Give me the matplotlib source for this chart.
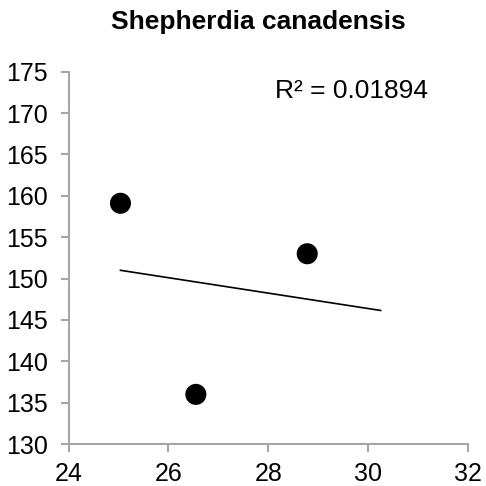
import numpy as np
import matplotlib
matplotlib.use("Agg")
import matplotlib.pyplot as plt

plt.rcParams["font.family"] = ["Liberation Sans", "DejaVu Sans"]

# Data
x_vals = [25.04, 26.55, 28.78]
y_vals = [159.1, 136.0, 153.0]
trend_x = [25.04, 30.25]
r2_label = "R\u00b2 = 0.01894"
title = "Shepherdia canadensis"

AXIS_GRAY = "#a6a6a6"

fig = plt.figure(figsize=(4.86, 4.86), dpi=100)
ax = fig.add_axes([0.141, 0.0864, 0.822, 0.766])

ax.scatter(x_vals, y_vals, s=230, c="black", zorder=3, edgecolors="none")

slope, intercept = np.polyfit(x_vals, y_vals, 1)
tx = np.array(trend_x)
ax.plot(tx, slope * tx + intercept, color="black", lw=1.2, zorder=2)

ax.set_xlim(24, 32)
ax.set_ylim(130, 175)
ax.set_xticks(range(24, 33, 2))
ax.set_yticks(range(130, 176, 5))

for side in ("top", "right"):
    ax.spines[side].set_visible(False)
for side in ("left", "bottom"):
    ax.spines[side].set_color(AXIS_GRAY)
    ax.spines[side].set_linewidth(1.5)
ax.tick_params(axis="both", colors=AXIS_GRAY, labelcolor="black",
               labelsize=18, length=6, width=1.5, direction="out")
ax.tick_params(axis="x", pad=7)
ax.tick_params(axis="y", pad=9)

ax.text(0.709, 0.948, r2_label, transform=ax.transAxes, fontsize=19,
        ha="center", va="center")
fig.text(0.531, 0.955, title, fontsize=19, fontweight="bold",
         ha="center", va="center")

fig.savefig("out.png", dpi=100, facecolor="white")
